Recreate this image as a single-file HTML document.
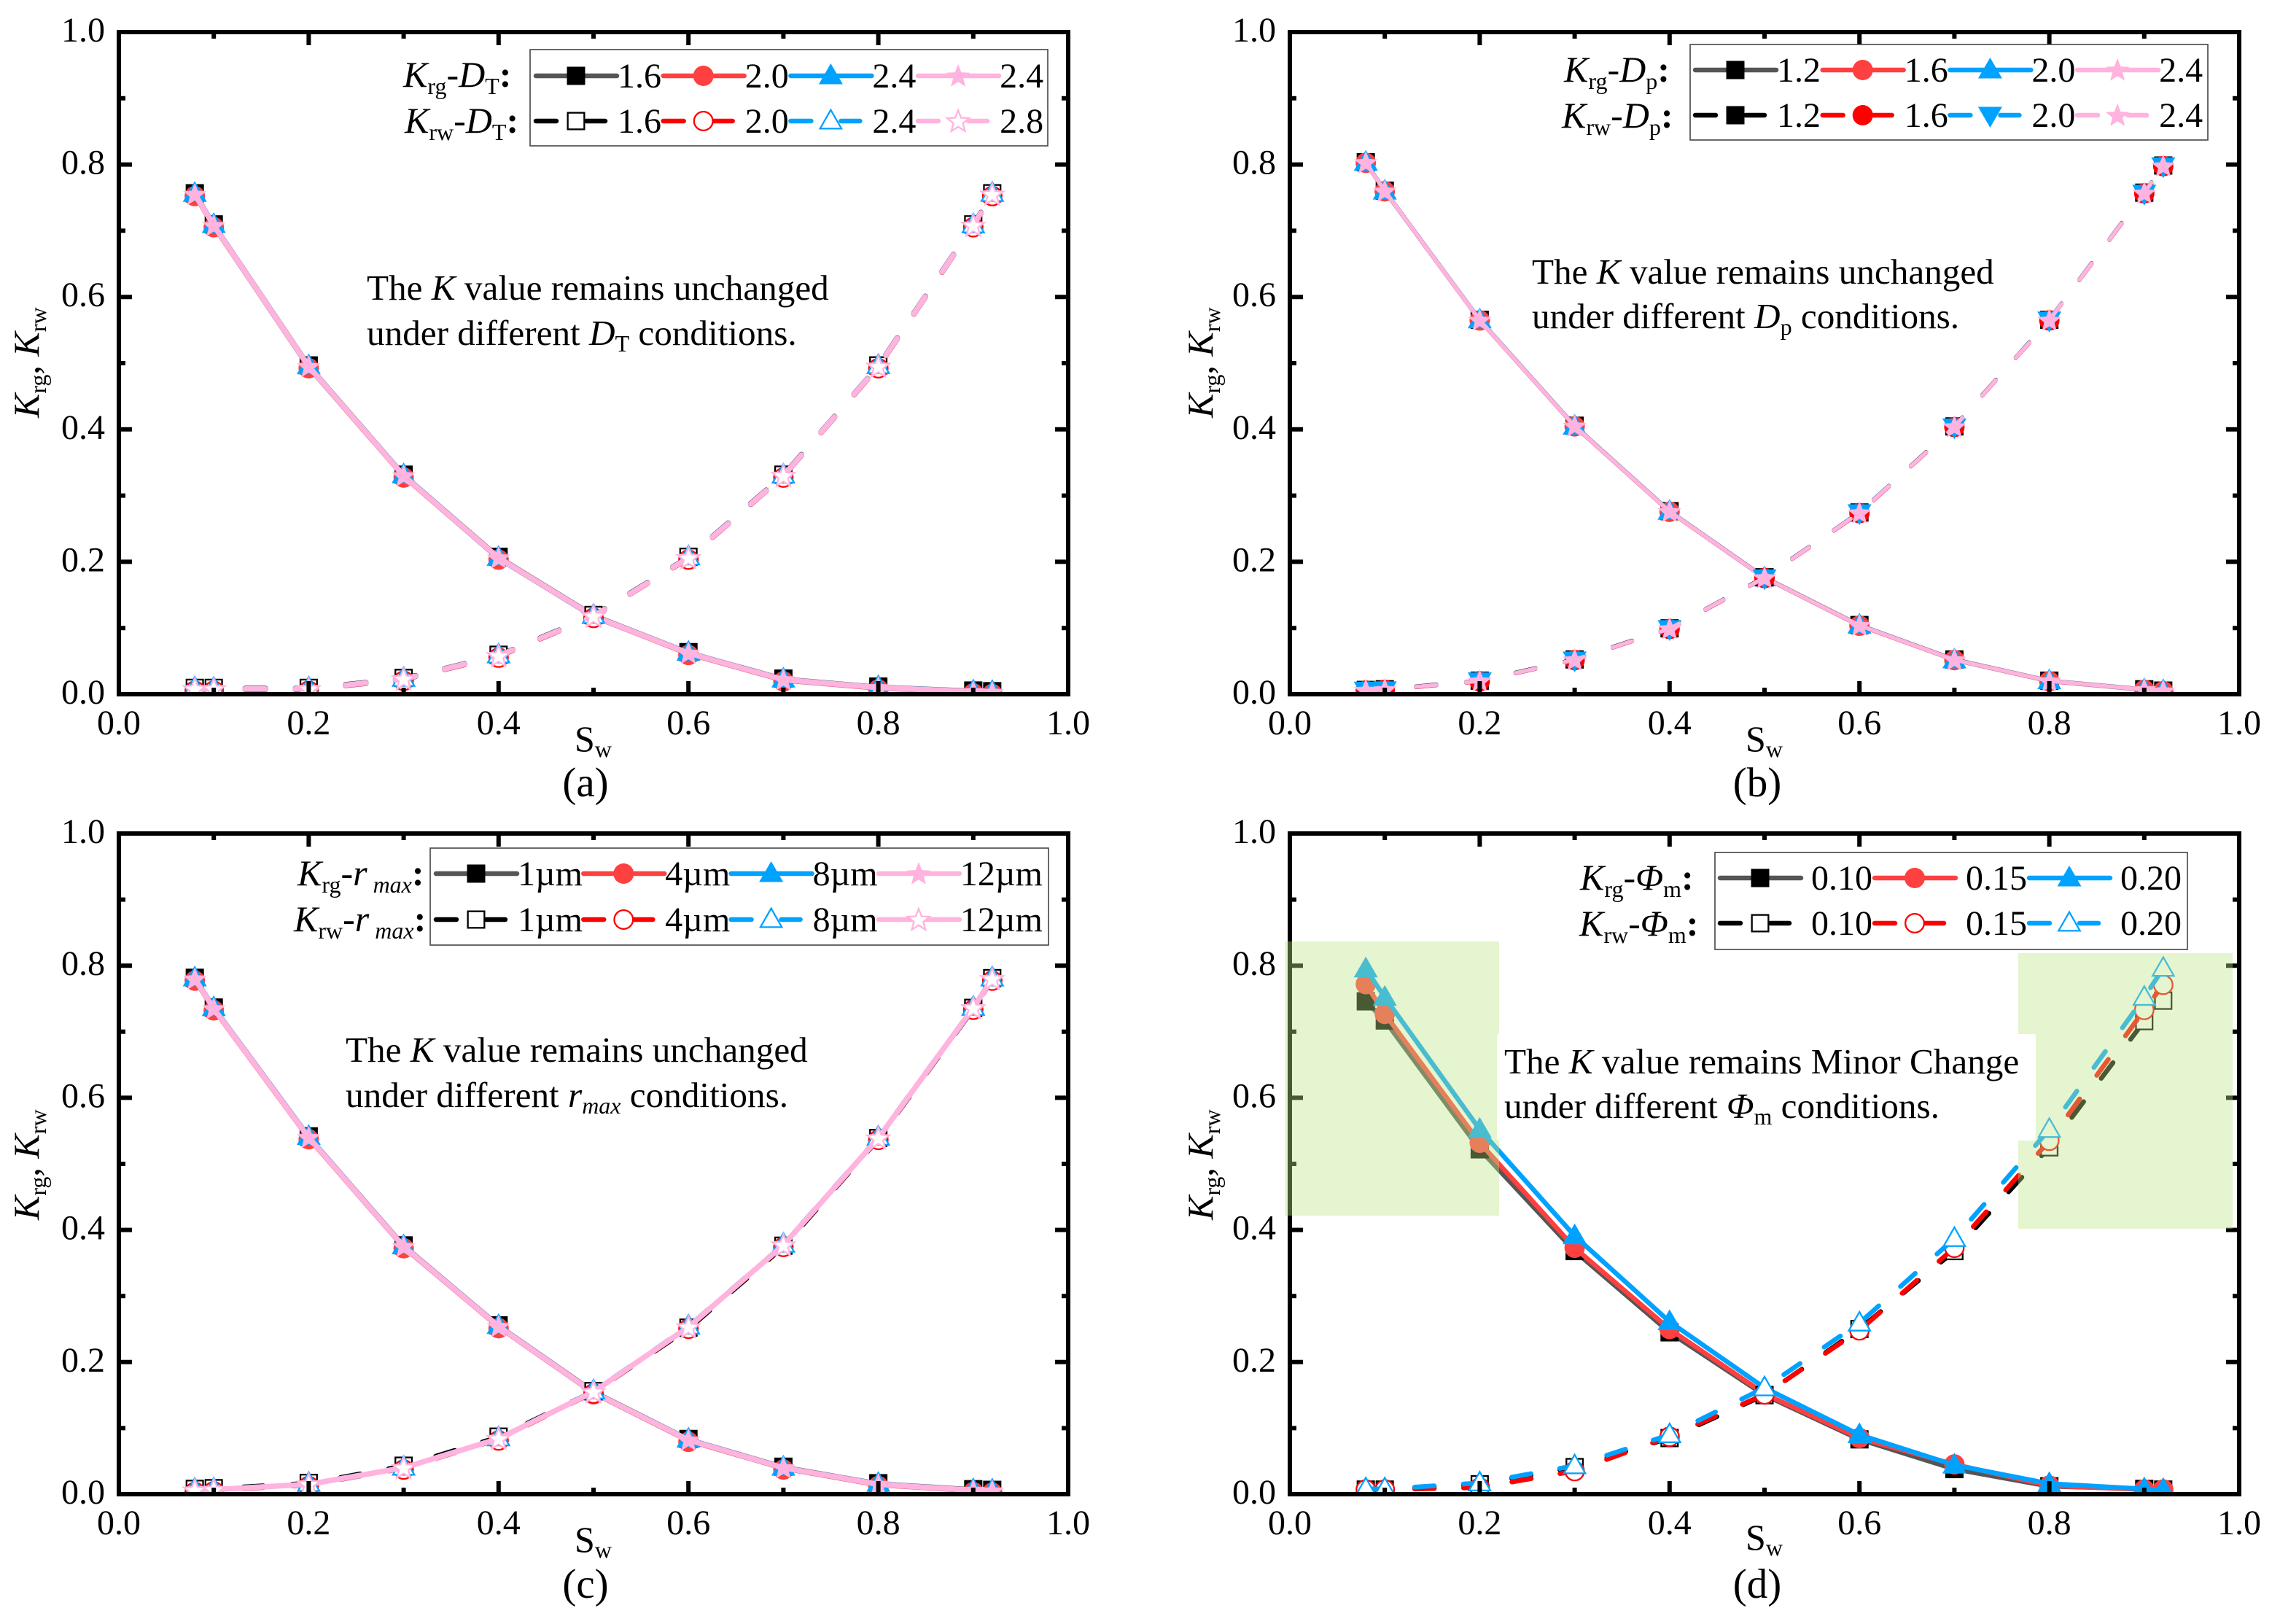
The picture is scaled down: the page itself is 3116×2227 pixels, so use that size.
<!DOCTYPE html>
<html lang="en">
<head>
<meta charset="utf-8">
<title>Relative permeability curves</title>
<style>
html,body{margin:0;padding:0;background:#fff;width:3116px;height:2227px;overflow:hidden}
svg{display:block}
text{font-family:"Liberation Serif",serif;fill:#000}
.i{font-style:italic}
.s{font-size:32px}
.b{font-weight:bold}
.lab{font-size:50px}
.note{font-size:49.2px}
.cap{font-size:57px}
</style>
</head>
<body>
<svg id="fig" xmlns="http://www.w3.org/2000/svg" width="3116" height="2227" viewBox="0 0 3116 2227">
<defs>
<clipPath id="clip-a"><rect x="163" y="44" width="1302" height="908"/></clipPath>
<clipPath id="clip-b"><rect x="1769" y="44" width="1302" height="908"/></clipPath>
<clipPath id="clip-c"><rect x="163" y="1143" width="1302" height="906"/></clipPath>
<clipPath id="clip-d"><rect x="1769" y="1143" width="1302" height="906"/></clipPath>
</defs>
<rect width="3116" height="2227" fill="#fff"/>
<g id="plot-a"></g>
<g id="plot-b"></g>
<g id="plot-c"></g>
<g id="plot-d"></g>

<rect x="1762" y="1291" width="294" height="376" fill="#bce685" fill-opacity="0.39"/>
<rect x="2768" y="1307" width="294" height="378" fill="#bce685" fill-opacity="0.39"/>
<rect x="2053" y="1418" width="739" height="146" rx="3" fill="#fff"/>

<!-- axis titles -->
<text class="lab" transform="translate(53,573) rotate(-90)"><tspan class="i">K</tspan><tspan class="s" dy="10">rg</tspan><tspan dy="-10">, </tspan><tspan class="i">K</tspan><tspan class="s" dy="10">rw</tspan></text>
<text class="lab" transform="translate(1663,573) rotate(-90)"><tspan class="i">K</tspan><tspan class="s" dy="10">rg</tspan><tspan dy="-10">, </tspan><tspan class="i">K</tspan><tspan class="s" dy="10">rw</tspan></text>
<text class="lab" transform="translate(53,1673) rotate(-90)"><tspan class="i">K</tspan><tspan class="s" dy="10">rg</tspan><tspan dy="-10">, </tspan><tspan class="i">K</tspan><tspan class="s" dy="10">rw</tspan></text>
<text class="lab" transform="translate(1663,1673) rotate(-90)"><tspan class="i">K</tspan><tspan class="s" dy="10">rg</tspan><tspan dy="-10">, </tspan><tspan class="i">K</tspan><tspan class="s" dy="10">rw</tspan></text>

<text class="lab" x="788" y="1030">S<tspan class="s" dy="8">w</tspan></text>
<text class="lab" x="2394" y="1030">S<tspan class="s" dy="8">w</tspan></text>
<text class="lab" x="788" y="2128">S<tspan class="s" dy="8">w</tspan></text>
<text class="lab" x="2394" y="2125">S<tspan class="s" dy="8">w</tspan></text>

<text class="cap" x="803" y="1092" text-anchor="middle">(a)</text>
<text class="cap" x="2410" y="1092" text-anchor="middle">(b)</text>
<text class="cap" x="803" y="2191" text-anchor="middle">(c)</text>
<text class="cap" x="2410" y="2191" text-anchor="middle">(d)</text>

<!-- annotations -->
<text class="note" x="503" y="411">The <tspan class="i">K</tspan> value remains unchanged</text>
<text class="note" x="503" y="473">under different <tspan class="i">D</tspan><tspan class="s" dy="9">T</tspan><tspan dy="-9"> conditions.</tspan></text>
<text class="note" x="2101" y="389">The <tspan class="i">K</tspan> value remains unchanged</text>
<text class="note" x="2101" y="450">under different <tspan class="i">D</tspan><tspan class="s" dy="9">p</tspan><tspan dy="-9"> conditions.</tspan></text>
<text class="note" x="474" y="1456">The <tspan class="i">K</tspan> value remains unchanged</text>
<text class="note" x="474" y="1518">under different <tspan class="i">r</tspan><tspan class="s i" dy="9">max</tspan><tspan dy="-9"> conditions.</tspan></text>
<text class="note" x="2063" y="1472">The <tspan class="i">K</tspan> value remains Minor Change</text>
<text class="note" x="2063" y="1533">under different <tspan class="i">Φ</tspan><tspan class="s" dy="9">m</tspan><tspan dy="-9"> conditions.</tspan></text>

<!-- legend boxes (entries are added by script on top) -->
<g id="legend-layer">
<rect x="727" y="68" width="710" height="132" fill="#fff" stroke="#444" stroke-width="1.6"/>
<rect x="2318" y="61" width="710" height="131" fill="#fff" stroke="#444" stroke-width="1.6"/>
<rect x="590" y="1163" width="848" height="133" fill="#fff" stroke="#444" stroke-width="1.6"/>
<rect x="2352" y="1169" width="648" height="133" fill="#fff" stroke="#444" stroke-width="1.6"/>
</g>

<!-- legend row titles -->
<text class="lab" x="553" y="119"><tspan class="i">K</tspan><tspan class="s" dy="10">rg</tspan><tspan dy="-10">-</tspan><tspan class="i">D</tspan><tspan class="s" dy="10">T</tspan><tspan class="b" dy="-10">:</tspan></text>
<text class="lab" x="555" y="182"><tspan class="i">K</tspan><tspan class="s" dy="10">rw</tspan><tspan dy="-10">-</tspan><tspan class="i">D</tspan><tspan class="s" dy="10">T</tspan><tspan class="b" dy="-10">:</tspan></text>
<text class="lab" x="2145" y="112"><tspan class="i">K</tspan><tspan class="s" dy="10">rg</tspan><tspan dy="-10">-</tspan><tspan class="i">D</tspan><tspan class="s" dy="10">p</tspan><tspan class="b" dy="-10">:</tspan></text>
<text class="lab" x="2142" y="175"><tspan class="i">K</tspan><tspan class="s" dy="10">rw</tspan><tspan dy="-10">-</tspan><tspan class="i">D</tspan><tspan class="s" dy="10">p</tspan><tspan class="b" dy="-10">:</tspan></text>
<text class="lab" x="408" y="1214"><tspan class="i">K</tspan><tspan class="s" dy="10">rg</tspan><tspan dy="-10">-</tspan><tspan class="i">r</tspan><tspan class="s i" dy="10"> max</tspan><tspan class="b" dy="-10">:</tspan></text>
<text class="lab" x="403" y="1277"><tspan class="i">K</tspan><tspan class="s" dy="10">rw</tspan><tspan dy="-10">-</tspan><tspan class="i">r</tspan><tspan class="s i" dy="10"> max</tspan><tspan class="b" dy="-10">:</tspan></text>
<text class="lab" x="2167" y="1220"><tspan class="i">K</tspan><tspan class="s" dy="10">rg</tspan><tspan dy="-10">-</tspan><tspan class="i">Φ</tspan><tspan class="s" dy="10">m</tspan><tspan class="b" dy="-10">:</tspan></text>
<text class="lab" x="2166" y="1283"><tspan class="i">K</tspan><tspan class="s" dy="10">rw</tspan><tspan dy="-10">-</tspan><tspan class="i">Φ</tspan><tspan class="s" dy="10">m</tspan><tspan class="b" dy="-10">:</tspan></text>
</svg>

<script>
// ---------- data ----------
const sw = [0.08, 0.1, 0.2, 0.3, 0.4, 0.5, 0.6, 0.7, 0.8, 0.9, 0.92];
const xTickLabels = ['0.0', '0.2', '0.4', '0.6', '0.8', '1.0'];
const yTickLabels = ['0.0', '0.2', '0.4', '0.6', '0.8', '1.0'];
const minorTicks = [0.1, 0.3, 0.5, 0.7, 0.9];

const aKrg16 = [0.7555, 0.7085, 0.4955, 0.3305, 0.2065, 0.1185, 0.0625, 0.0225, 0.0105, 0.0045, 0.0035];
const aKrg20 = [0.7545, 0.7075, 0.4945, 0.3295, 0.2055, 0.1175, 0.0615, 0.0215, 0.0095, 0.0035, 0.0025];
const aKrg24 = [0.7553, 0.7082, 0.4948, 0.3303, 0.2056, 0.1178, 0.0622, 0.0218, 0.0102, 0.0038, 0.0032];
const aKrg28 = [0.755, 0.708, 0.495, 0.330, 0.206, 0.118, 0.062, 0.022, 0.010, 0.004, 0.003];
const aKrw16 = [0.0085, 0.0085, 0.0085, 0.0235, 0.0585, 0.1185, 0.2065, 0.3305, 0.4955, 0.7085, 0.7555];
const aKrw20 = [0.0075, 0.0075, 0.0075, 0.0225, 0.0575, 0.1175, 0.2055, 0.3295, 0.4945, 0.7075, 0.7545];
const aKrw24 = [0.0082, 0.0078, 0.0082, 0.0228, 0.0582, 0.1178, 0.2062, 0.3298, 0.4952, 0.7078, 0.7552];
const aKrw28 = [0.008, 0.008, 0.008, 0.023, 0.058, 0.118, 0.206, 0.330, 0.495, 0.708, 0.755];

const bKrg12 = [0.8035, 0.7605, 0.5655, 0.4055, 0.2765, 0.1765, 0.1045, 0.0525, 0.0205, 0.0075, 0.0055];
const bKrg16 = [0.8025, 0.7595, 0.5645, 0.4045, 0.2755, 0.1755, 0.1035, 0.0515, 0.0195, 0.0065, 0.0045];
const bKrg20 = [0.8033, 0.7598, 0.5653, 0.4048, 0.2762, 0.1758, 0.1042, 0.0518, 0.0202, 0.0068, 0.0052];
const bKrg24 = [0.803, 0.760, 0.565, 0.405, 0.276, 0.176, 0.104, 0.052, 0.020, 0.007, 0.005];
const bKrw12 = [0.0065, 0.0075, 0.0205, 0.0525, 0.0995, 0.1765, 0.2745, 0.4045, 0.5655, 0.7575, 0.7985];
const bKrw16 = [0.0055, 0.0065, 0.0195, 0.0515, 0.0985, 0.1755, 0.2735, 0.4035, 0.5645, 0.7565, 0.7975];
const bKrw20 = [0.0062, 0.0068, 0.0202, 0.0518, 0.0992, 0.1758, 0.2742, 0.4038, 0.5652, 0.7568, 0.7982];
const bKrw24 = [0.006, 0.007, 0.020, 0.052, 0.099, 0.176, 0.274, 0.404, 0.565, 0.757, 0.798];

const cKrg1 = [0.7805, 0.7355, 0.5405, 0.3755, 0.2545, 0.1545, 0.0825, 0.0405, 0.0155, 0.0065, 0.0055];
const cKrg4 = [0.7795, 0.7345, 0.5395, 0.3745, 0.2535, 0.1535, 0.0815, 0.0395, 0.0145, 0.0055, 0.0045];
const cKrg8 = [0.7803, 0.7352, 0.5403, 0.3748, 0.2542, 0.1538, 0.0822, 0.0398, 0.0152, 0.0058, 0.0052];
const cKrg12 = [0.780, 0.735, 0.540, 0.375, 0.254, 0.154, 0.082, 0.040, 0.015, 0.006, 0.005];
const cKrw1 = [0.007, 0.008, 0.016, 0.042, 0.086, 0.155, 0.251, 0.375, 0.538, 0.735, 0.780];
const cKrw4 = [0.0055, 0.0065, 0.0145, 0.0395, 0.0835, 0.1545, 0.2525, 0.3765, 0.5385, 0.7355, 0.7795];
const cKrw8 = [0.0062, 0.0068, 0.0152, 0.0398, 0.0842, 0.1552, 0.2532, 0.3772, 0.5392, 0.7358, 0.7802];
const cKrw12 = [0.006, 0.007, 0.015, 0.040, 0.084, 0.155, 0.253, 0.377, 0.539, 0.736, 0.780];

const dKrg10 = [0.746, 0.717, 0.522, 0.368, 0.245, 0.150, 0.083, 0.038, 0.012, 0.008, 0.007];
const dKrg15 = [0.772, 0.727, 0.532, 0.373, 0.250, 0.152, 0.085, 0.045, 0.013, 0.007, 0.007];
const dKrg20 = [0.795, 0.752, 0.552, 0.391, 0.261, 0.161, 0.090, 0.044, 0.016, 0.008, 0.007];
const dKrw10 = [0.007, 0.007, 0.015, 0.041, 0.085, 0.150, 0.250, 0.368, 0.525, 0.716, 0.747];
const dKrw15 = [0.007, 0.007, 0.010, 0.035, 0.087, 0.151, 0.248, 0.373, 0.535, 0.733, 0.771];
const dKrw20 = [0.008, 0.008, 0.017, 0.043, 0.090, 0.161, 0.259, 0.387, 0.552, 0.752, 0.796];

const legendLabelsA = ['1.6', '2.0', '2.4', '2.4'];
const legendLabelsAw = ['1.6', '2.0', '2.4', '2.8'];
const legendLabelsB = ['1.2', '1.6', '2.0', '2.4'];
const legendLabelsC = ['1µm', '4µm', '8µm', '12µm'];
const legendLabelsD = ['0.10', '0.15', '0.20'];

// ---------- styling ----------
const GRAY = '#555555', BLACK = '#000000', RED_L = '#ff4040', RED = '#ff0000', BLUE = '#00a2ff', PINK = '#ffb3de';
const panels = [
 {id:'a', x0:163, x1:1465, y0:952, y1:44, w:7.5, dash:'28 41', nudge:[-1,2,-1,0],
  krg:[aKrg16,aKrg20,aKrg24,aKrg28], krw:[aKrw16,aKrw20,aKrw24,aKrw28],
  shapes:['square','circle','up','star'], wShapes:['square','circle','up','star'], open:true, pinkDash:true,
  legendX:732, step:174.7, textOff:115, rowY:[104,166], labels:legendLabelsA, labelsW:legendLabelsAw},
 {id:'b', x0:1769, x1:3071, y0:952, y1:44, w:5.5, dash:'28 41', nudge:[0,0,0,0],
  krg:[bKrg12,bKrg16,bKrg20,bKrg24], krw:[bKrw12,bKrw16,bKrw20,bKrw24],
  shapes:['square','circle','up','star'], wShapes:['square','circle','down','star'], open:false, pinkDash:true,
  legendX:2322, step:174.7, textOff:115, rowY:[96,158], labels:legendLabelsB, labelsW:legendLabelsB},
 {id:'c', x0:163, x1:1465, y0:2049, y1:1143, w:7.5, dash:'27 40', nudge:[-1,2,-1,0],
  krg:[cKrg1,cKrg4,cKrg8,cKrg12], krw:[cKrw1,cKrw4,cKrw8,cKrw12],
  shapes:['square','circle','up','star'], wShapes:['square','circle','up','star'], open:true, pinkDash:false,
  legendX:595, step:202.3, textOff:115, rowY:[1198,1261], labels:legendLabelsC, labelsW:legendLabelsC},
 {id:'d', x0:1769, x1:3071, y0:2049, y1:1143, w:6.5, dash:'27 40', nudge:[0,0,0],
  krg:[dKrg10,dKrg15,dKrg20], krw:[dKrw10,dKrw15,dKrw20],
  shapes:['square','circle','up'], wShapes:['square','circle','up'], open:true, pinkDash:true,
  legendX:2356, step:212, textOff:128, rowY:[1204,1266], labels:legendLabelsD, labelsW:legendLabelsD}
];
const krgColors = [GRAY, RED_L, BLUE, PINK];
const krgMarkerColors = [BLACK, RED_L, BLUE, PINK];
const krwColors = [BLACK, RED, BLUE, PINK];

const NS = 'http://www.w3.org/2000/svg';
function make(tag, parent, props) {
  const el = document.createElementNS(NS, tag);
  for (const k in props) el.setAttribute(k, props[k]);
  parent.appendChild(el);
  return el;
}
function shapeMarkup(parent, shape, cx, cy, fill, stroke) {
  const sw2 = stroke ? 2.3 : 0;
  const ins = sw2 / 2;
  const style = {fill: fill, stroke: stroke || 'none', 'stroke-width': sw2};
  let el;
  if (shape === 'square') {
    el = make('rect', parent, Object.assign({x: cx - 12.5 + ins, y: cy - 12.5 + ins, width: 25 - sw2, height: 25 - sw2}, style));
  } else if (shape === 'circle') {
    el = make('circle', parent, Object.assign({cx: cx, cy: cy, r: 14 - ins}, style));
  } else if (shape === 'up' || shape === 'down') {
    const d = shape === 'up' ? 1 : -1;
    const pts = [[cx, cy - d * (17 - ins * 1.5)], [cx + 16.5 - ins * 1.6, cy + d * (11.5 - ins)], [cx - 16.5 + ins * 1.6, cy + d * (11.5 - ins)]];
    el = make('polygon', parent, Object.assign({points: pts.map(p => p.join(',')).join(' ')}, style));
  } else {
    const pts = [];
    const R = 17 - ins, r = R * 0.43;
    for (let i = 0; i < 10; i++) {
      const a = -Math.PI / 2 + i * Math.PI / 5, q = i % 2 ? r : R;
      pts.push((cx + q * Math.cos(a)).toFixed(1) + ',' + (cy + 1 + q * Math.sin(a)).toFixed(1));
    }
    el = make('polygon', parent, Object.assign({points: pts.join(' ')}, style));
  }
  return el;
}

panels.forEach(function (p) {
  const root = document.getElementById('plot-' + p.id);
  const xScale = v => p.x0 + v * (p.x1 - p.x0);
  const yScale = v => p.y0 - v * (p.y0 - p.y1);

  const data = make('g', root, {'clip-path': 'url(#clip-' + p.id + ')'});
  
  

  function drawSeries(values, idx, family, lineColor, markerFill, markerStroke, shape, dashed) {
    const g = make('g', data, {});
    
    
    const d = values.map((v, i) => (i ? 'L' : 'M') + xScale(sw[i]).toFixed(1) + ' ' + yScale(v).toFixed(1)).join(' ');
    const line = make('path', g, {d: d, fill: 'none', stroke: lineColor, 'stroke-width': p.w, 'stroke-linecap': 'round', 'stroke-linejoin': 'round'});
    if (dashed) line.setAttribute('stroke-dasharray', p.dash);
    
    
    values.forEach(function (v, i) {
      const m = shapeMarkup(g, shape, xScale(sw[i]), yScale(v) + p.nudge[idx], markerFill, markerStroke);
      
      
    });
  }

  p.krg.forEach(function (vals, i) {
    drawSeries(vals, i, 'krg', krgColors[i], krgMarkerColors[i], null, p.shapes[i], false);
  });
  p.krw.forEach(function (vals, i) {
    const dashed = i === 3 ? p.pinkDash : true;
    const fill = p.open ? '#ffffff' : krwColors[i];
    const stroke = p.open ? krwColors[i] : null;
    drawSeries(vals, i, 'krw', krwColors[i], fill, stroke, p.wShapes[i], dashed);
  });

  // axes
  const axes = make('g', root, {});
  
  
  const frame = make('rect', axes, {x: p.x0, y: p.y1, width: p.x1 - p.x0, height: p.y0 - p.y1, fill: 'none', stroke: '#000', 'stroke-width': 6});
  
  

  function tick(v, len, kind) {
    const t = make('path', axes, {
      d: 'M' + xScale(v) + ' ' + p.y0 + 'v' + (-len) + 'M' + xScale(v) + ' ' + p.y1 + 'v' + len +
         'M' + p.x0 + ' ' + yScale(v) + 'h' + len + 'M' + p.x1 + ' ' + yScale(v) + 'h' + (-len),
      stroke: '#000', 'stroke-width': 6, fill: 'none'});
    
    
  }
  xTickLabels.forEach(function (l) { tick(parseFloat(l), 18, 'major'); });
  minorTicks.forEach(function (v) { tick(v, 9, 'minor'); });

  xTickLabels.forEach(function (l) {
    const t = make('text', root, {x: xScale(parseFloat(l)), y: p.y0 + 55, 'text-anchor': 'middle', 'font-size': 48});
    t.textContent = l;
    
    
  });
  yTickLabels.forEach(function (l) {
    const t = make('text', root, {x: p.x0 - 19, y: yScale(parseFloat(l)) + 13, 'text-anchor': 'end', 'font-size': 48});
    t.textContent = l;
    
    
  });
});

// legends are painted after all static boxes
const legendRoot = document.getElementById('legend-layer');
panels.forEach(function (p) {
  p.krg.forEach(function (_, i) {
    const hx = p.legendX + p.step * i;
    const y0 = p.rowY[0], y1 = p.rowY[1];

    const e1 = make('g', legendRoot, {});
    
    
    make('line', e1, {x1: hx + 3, y1: y0, x2: hx + 114, y2: y0, stroke: krgColors[i], 'stroke-width': 6.5, 'stroke-linecap': 'round'});
    shapeMarkup(e1, p.shapes[i], hx + 58, y0, krgMarkerColors[i], null);
    const t1 = make('text', e1, {x: hx + p.textOff, y: y0 + 16, 'font-size': 48});
    t1.textContent = p.labels[i];

    const e2 = make('g', legendRoot, {});
    
    
    const dashed = i === 3 ? p.pinkDash : true;
    const ln = make('line', e2, {x1: hx + 3, y1: y1, x2: dashed ? hx + 98 : hx + 114, y2: y1, stroke: krwColors[i], 'stroke-width': 6.5, 'stroke-linecap': 'round'});
    if (dashed) ln.setAttribute('stroke-dasharray', '28 41');
    shapeMarkup(e2, p.wShapes[i], hx + 58, y1, p.open ? '#ffffff' : krwColors[i], p.open ? krwColors[i] : null);
    const t2 = make('text', e2, {x: hx + p.textOff, y: y1 + 16, 'font-size': 48});
    t2.textContent = p.labelsW[i];
  });
});
</script>
</body>
</html>
